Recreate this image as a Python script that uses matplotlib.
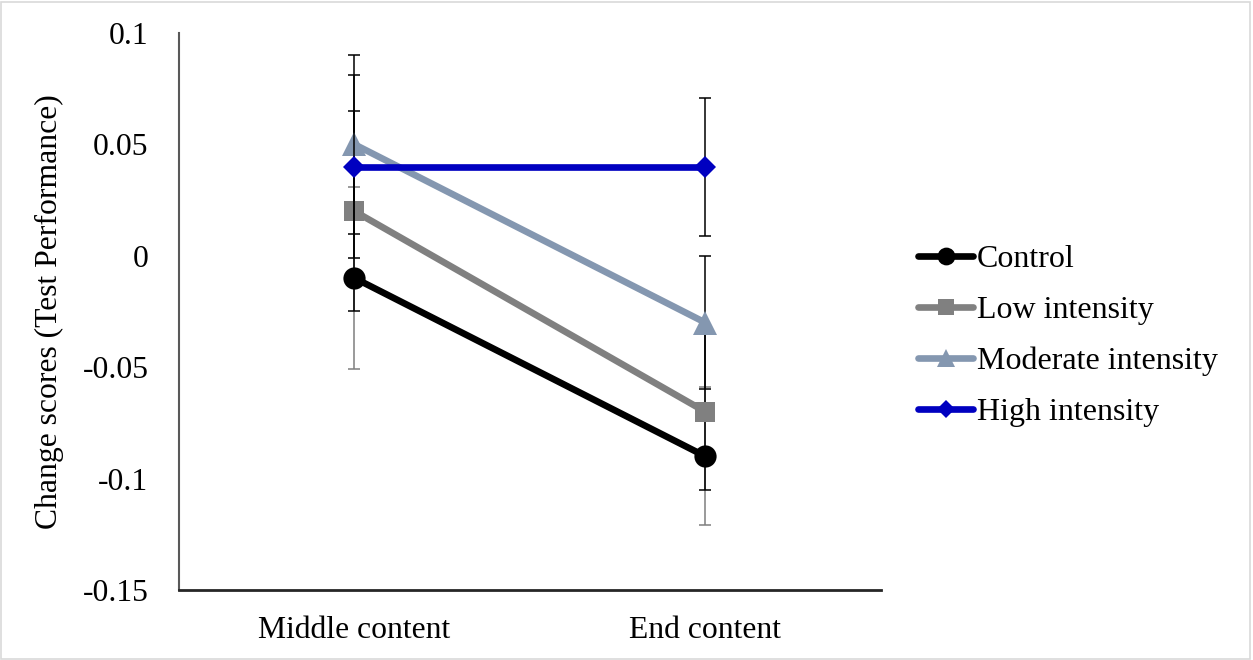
import matplotlib
matplotlib.use('Agg')
import matplotlib.pyplot as plt
from matplotlib.patches import Rectangle

plt.rcParams['font.family'] = ['Liberation Serif', 'DejaVu Serif']
plt.rcParams['axes.unicode_minus'] = False

categories = ['Middle content', 'End content']
series_names = ['Control', 'Low intensity', 'Moderate intensity', 'High intensity']
control = [-0.01, -0.09]
low = [0.02, -0.07]
moderate = [0.05, -0.03]
high = [0.04, 0.04]
control_err = [0.041, 0.031]
low_err = [0.045, 0.035]
moderate_err = [0.040, 0.030]
high_err = [0.041, 0.031]
yticks = [-0.15, -0.1, -0.05, 0, 0.05, 0.1]

values = [control, low, moderate, high]
errors = [control_err, low_err, moderate_err, high_err]
colors = ['#000000', '#808080', '#8497B0', '#0000C0']
err_colors = ['#7F7F7F', '#000000', '#000000', '#000000']
markers = ['o', 's', '^', 'D']
msizes = [16, 15, 17, 11]

fig = plt.figure(figsize=(12.53, 6.6), dpi=100)
ax = fig.add_axes([0.1429, 0.1061, 0.56, 0.8439])

x = list(range(len(categories)))
handles = []
for i in range(4):
    # error bars sit under their own series, over the earlier ones
    ax.errorbar(x, values[i], yerr=errors[i], fmt='none', ecolor=err_colors[i],
                elinewidth=1.1, capsize=4.3, capthick=1.1, zorder=2 + 2 * i)
    h, = ax.plot(x, values[i], color=colors[i], lw=4.8, marker=markers[i],
                 markersize=msizes[i], markeredgewidth=0, zorder=3 + 2 * i,
                 label=series_names[i], solid_capstyle='round')
    handles.append(h)

ax.set_xlim(-0.5, 1.5)
ax.set_ylim(-0.15, 0.1)
ax.set_xticks(x)
ax.set_xticklabels(categories)
ax.set_yticks(yticks)
ax.set_yticklabels(['%g' % v for v in yticks])
ax.tick_params(axis='both', length=0, labelsize=22.8)
ax.tick_params(axis='y', pad=22)
ax.tick_params(axis='x', pad=19)
ax.set_ylabel('Change scores (Test Performance)', fontsize=22.8, labelpad=13)

for s in ['top', 'right']:
    ax.spines[s].set_visible(False)
ax.spines['left'].set_color('#595959')
ax.spines['left'].set_linewidth(1.5)
ax.spines['bottom'].set_color('#262626')
ax.spines['bottom'].set_linewidth(2.0)

fig.legend(handles=handles, loc='center left', bbox_to_anchor=(0.733, 0.491),
           frameon=False, fontsize=23, handlelength=1.7, handletextpad=0.12,
           labelspacing=0.68, markerscale=0.8, borderpad=0, borderaxespad=0)

# light chart-area border
fig.patches.append(Rectangle((0.001, 0.002), 0.997, 0.995, transform=fig.transFigure,
                             fill=False, edgecolor='#D9D9D9', lw=1.2))

fig.savefig('out.png', dpi=100)
